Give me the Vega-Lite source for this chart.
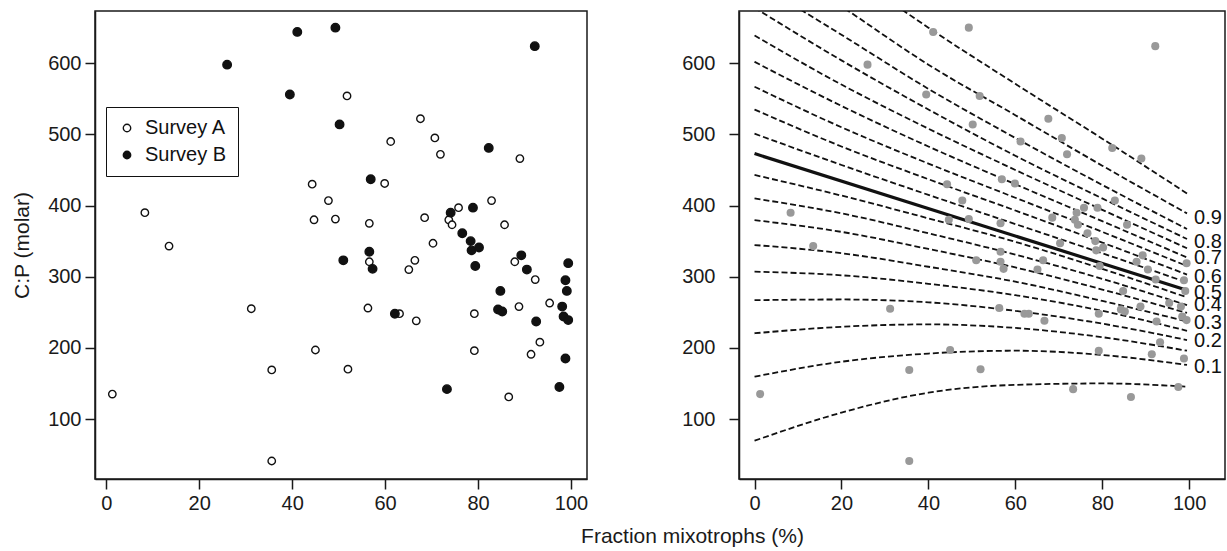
{
  "$schema": "https://vega.github.io/schema/vega-lite/v6.json",
  "padding": {"left": 10, "top": 10, "right": 0, "bottom": 0},
  "bounds": "flush",
  "spacing": 152,
  "config": {
    "font": "Liberation Sans",
    "view": {"stroke": "#1a1a1a", "strokeWidth": 1.5},
    "axis": {"domainColor": "#1a1a1a", "domainWidth": 1.5, "tickColor": "#1a1a1a", "tickWidth": 1.5, "tickSize": 10, "labelFontSize": 20, "labelColor": "#1a1a1a", "labelPadding": 4, "grid": false, "titleFontSize": 21, "titleFontWeight": "normal", "titleColor": "#1a1a1a"}
  },
  "datasets": {
    "pts": [
      {"s": "Survey A", "x": 1.3, "y": 135}, {"s": "Survey A", "x": 8.3, "y": 390}, {"s": "Survey A", "x": 13.5, "y": 343},
      {"s": "Survey A", "x": 31.2, "y": 255}, {"s": "Survey A", "x": 35.6, "y": 169}, {"s": "Survey A", "x": 35.6, "y": 41},
      {"s": "Survey A", "x": 44.3, "y": 430}, {"s": "Survey A", "x": 44.7, "y": 380}, {"s": "Survey A", "x": 45.0, "y": 197},
      {"s": "Survey A", "x": 47.8, "y": 407}, {"s": "Survey A", "x": 49.3, "y": 381}, {"s": "Survey A", "x": 51.8, "y": 554},
      {"s": "Survey A", "x": 52.0, "y": 170}, {"s": "Survey A", "x": 56.3, "y": 256}, {"s": "Survey A", "x": 56.6, "y": 375},
      {"s": "Survey A", "x": 56.6, "y": 321}, {"s": "Survey A", "x": 59.9, "y": 431}, {"s": "Survey A", "x": 61.2, "y": 490},
      {"s": "Survey A", "x": 63.1, "y": 248}, {"s": "Survey A", "x": 65.1, "y": 310}, {"s": "Survey A", "x": 66.4, "y": 323},
      {"s": "Survey A", "x": 66.7, "y": 238}, {"s": "Survey A", "x": 67.6, "y": 522}, {"s": "Survey A", "x": 68.5, "y": 383},
      {"s": "Survey A", "x": 70.3, "y": 347}, {"s": "Survey A", "x": 70.7, "y": 495}, {"s": "Survey A", "x": 71.9, "y": 472},
      {"s": "Survey A", "x": 73.7, "y": 380}, {"s": "Survey A", "x": 74.4, "y": 373}, {"s": "Survey A", "x": 75.8, "y": 397},
      {"s": "Survey A", "x": 79.2, "y": 248}, {"s": "Survey A", "x": 79.2, "y": 196}, {"s": "Survey A", "x": 82.9, "y": 407},
      {"s": "Survey A", "x": 85.7, "y": 373}, {"s": "Survey A", "x": 86.6, "y": 131}, {"s": "Survey A", "x": 87.9, "y": 321},
      {"s": "Survey A", "x": 88.8, "y": 258}, {"s": "Survey A", "x": 89.0, "y": 466}, {"s": "Survey A", "x": 91.4, "y": 191},
      {"s": "Survey A", "x": 92.3, "y": 296}, {"s": "Survey A", "x": 93.3, "y": 208}, {"s": "Survey A", "x": 95.4, "y": 263},
      {"s": "Survey B", "x": 26.0, "y": 598}, {"s": "Survey B", "x": 39.5, "y": 556}, {"s": "Survey B", "x": 41.1, "y": 644},
      {"s": "Survey B", "x": 49.3, "y": 650}, {"s": "Survey B", "x": 50.2, "y": 514}, {"s": "Survey B", "x": 51.0, "y": 323},
      {"s": "Survey B", "x": 56.6, "y": 335}, {"s": "Survey B", "x": 56.9, "y": 437}, {"s": "Survey B", "x": 57.3, "y": 311},
      {"s": "Survey B", "x": 62.1, "y": 248}, {"s": "Survey B", "x": 73.3, "y": 142}, {"s": "Survey B", "x": 74.1, "y": 390},
      {"s": "Survey B", "x": 76.6, "y": 361}, {"s": "Survey B", "x": 78.4, "y": 350}, {"s": "Survey B", "x": 78.6, "y": 337},
      {"s": "Survey B", "x": 78.9, "y": 397}, {"s": "Survey B", "x": 79.4, "y": 315}, {"s": "Survey B", "x": 80.2, "y": 341},
      {"s": "Survey B", "x": 82.3, "y": 481}, {"s": "Survey B", "x": 84.3, "y": 254}, {"s": "Survey B", "x": 84.8, "y": 280},
      {"s": "Survey B", "x": 85.2, "y": 251}, {"s": "Survey B", "x": 89.3, "y": 330}, {"s": "Survey B", "x": 90.5, "y": 310},
      {"s": "Survey B", "x": 92.2, "y": 624}, {"s": "Survey B", "x": 92.5, "y": 237}, {"s": "Survey B", "x": 97.5, "y": 145},
      {"s": "Survey B", "x": 98.1, "y": 258}, {"s": "Survey B", "x": 98.4, "y": 244}, {"s": "Survey B", "x": 98.8, "y": 295},
      {"s": "Survey B", "x": 98.8, "y": 185}, {"s": "Survey B", "x": 99.1, "y": 280}, {"s": "Survey B", "x": 99.4, "y": 319},
      {"s": "Survey B", "x": 99.4, "y": 239}
    ],
    "qlines": [
      {"q": "0.05", "x": 0, "y": 69.5}, {"q": "0.05", "x": 20, "y": 109}, {"q": "0.05", "x": 40, "y": 137}, {"q": "0.05", "x": 60, "y": 148}, {"q": "0.05", "x": 80, "y": 150}, {"q": "0.05", "x": 99.5, "y": 145.5},
      {"q": "0.10", "x": 0, "y": 159.5}, {"q": "0.10", "x": 20, "y": 180.5}, {"q": "0.10", "x": 40, "y": 192}, {"q": "0.10", "x": 60, "y": 196}, {"q": "0.10", "x": 80, "y": 190}, {"q": "0.10", "x": 99.5, "y": 176},
      {"q": "0.15", "x": 0, "y": 220.5}, {"q": "0.15", "x": 20, "y": 229.6}, {"q": "0.15", "x": 40, "y": 233}, {"q": "0.15", "x": 60, "y": 228}, {"q": "0.15", "x": 80, "y": 215}, {"q": "0.15", "x": 99.5, "y": 196},
      {"q": "0.20", "x": 0, "y": 267}, {"q": "0.20", "x": 20, "y": 268}, {"q": "0.20", "x": 40, "y": 264}, {"q": "0.20", "x": 60, "y": 252}, {"q": "0.20", "x": 80, "y": 234}, {"q": "0.20", "x": 99.5, "y": 211},
      {"q": "0.25", "x": 0, "y": 307}, {"q": "0.25", "x": 20, "y": 302}, {"q": "0.25", "x": 40, "y": 290}, {"q": "0.25", "x": 60, "y": 274}, {"q": "0.25", "x": 80, "y": 252}, {"q": "0.25", "x": 99.5, "y": 224},
      {"q": "0.30", "x": 0, "y": 344.5}, {"q": "0.30", "x": 20, "y": 333}, {"q": "0.30", "x": 40, "y": 314}, {"q": "0.30", "x": 60, "y": 293}, {"q": "0.30", "x": 80, "y": 266}, {"q": "0.30", "x": 99.5, "y": 237},
      {"q": "0.35", "x": 0, "y": 379.5}, {"q": "0.35", "x": 20, "y": 363}, {"q": "0.35", "x": 40, "y": 339}, {"q": "0.35", "x": 60, "y": 313}, {"q": "0.35", "x": 80, "y": 282}, {"q": "0.35", "x": 99.5, "y": 249},
      {"q": "0.40", "x": 0, "y": 410}, {"q": "0.40", "x": 20, "y": 389}, {"q": "0.40", "x": 40, "y": 361}, {"q": "0.40", "x": 60, "y": 331}, {"q": "0.40", "x": 80, "y": 297}, {"q": "0.40", "x": 99.5, "y": 260},
      {"q": "0.45", "x": 0, "y": 443}, {"q": "0.45", "x": 20, "y": 414}, {"q": "0.45", "x": 40, "y": 382}, {"q": "0.45", "x": 60, "y": 349}, {"q": "0.45", "x": 80, "y": 311}, {"q": "0.45", "x": 99.5, "y": 271},
      {"q": "0.55", "x": 0, "y": 501}, {"q": "0.55", "x": 20, "y": 457}, {"q": "0.55", "x": 40, "y": 415}, {"q": "0.55", "x": 60, "y": 374}, {"q": "0.55", "x": 80, "y": 333}, {"q": "0.55", "x": 99.5, "y": 292},
      {"q": "0.60", "x": 0, "y": 535}, {"q": "0.60", "x": 20, "y": 483}, {"q": "0.60", "x": 40, "y": 437}, {"q": "0.60", "x": 60, "y": 393}, {"q": "0.60", "x": 80, "y": 348}, {"q": "0.60", "x": 99.5, "y": 303},
      {"q": "0.65", "x": 0, "y": 567}, {"q": "0.65", "x": 20, "y": 510}, {"q": "0.65", "x": 40, "y": 459}, {"q": "0.65", "x": 60, "y": 411}, {"q": "0.65", "x": 80, "y": 363}, {"q": "0.65", "x": 99.5, "y": 315},
      {"q": "0.70", "x": 0, "y": 602}, {"q": "0.70", "x": 20, "y": 540}, {"q": "0.70", "x": 40, "y": 483}, {"q": "0.70", "x": 60, "y": 430}, {"q": "0.70", "x": 80, "y": 378}, {"q": "0.70", "x": 99.5, "y": 327},
      {"q": "0.75", "x": 0, "y": 639}, {"q": "0.75", "x": 20, "y": 570}, {"q": "0.75", "x": 40, "y": 508}, {"q": "0.75", "x": 60, "y": 450}, {"q": "0.75", "x": 80, "y": 394}, {"q": "0.75", "x": 99.5, "y": 340},
      {"q": "0.80", "x": 0, "y": 678}, {"q": "0.80", "x": 20, "y": 604}, {"q": "0.80", "x": 40, "y": 535}, {"q": "0.80", "x": 60, "y": 470}, {"q": "0.80", "x": 80, "y": 410}, {"q": "0.80", "x": 99.5, "y": 353},
      {"q": "0.85", "x": 0, "y": 715}, {"q": "0.85", "x": 20, "y": 640}, {"q": "0.85", "x": 40, "y": 564}, {"q": "0.85", "x": 60, "y": 495}, {"q": "0.85", "x": 80, "y": 429}, {"q": "0.85", "x": 99.5, "y": 367},
      {"q": "0.90", "x": 0, "y": 760}, {"q": "0.90", "x": 20, "y": 680}, {"q": "0.90", "x": 40, "y": 598}, {"q": "0.90", "x": 60, "y": 527}, {"q": "0.90", "x": 80, "y": 456}, {"q": "0.90", "x": 99.5, "y": 389},
      {"q": "0.95", "x": 0, "y": 820}, {"q": "0.95", "x": 20, "y": 735}, {"q": "0.95", "x": 40, "y": 650}, {"q": "0.95", "x": 60, "y": 571}, {"q": "0.95", "x": 80, "y": 494}, {"q": "0.95", "x": 99.5, "y": 417}
    ],
    "median": [
      {"x": 0, "y": 473}, {"x": 99.5, "y": 281}
    ],
    "labels": [
      {"t": "0.9", "x": 99.5, "y": 382.5}, {"t": "0.8", "x": 99.5, "y": 349}, {"t": "0.7", "x": 99.5, "y": 326},
      {"t": "0.6", "x": 99.5, "y": 300}, {"t": "0.5", "x": 99.5, "y": 277.6}, {"t": "0.4", "x": 99.5, "y": 260},
      {"t": "0.3", "x": 99.5, "y": 235}, {"t": "0.2", "x": 99.5, "y": 209}, {"t": "0.1", "x": 99.5, "y": 173}
    ]
  },
  "hconcat": [
    {
      "width": 492,
      "height": 468,
      "data": {"name": "pts"},
      "encoding": {
        "x": {"field": "x", "type": "quantitative",
              "scale": {"domain": [-2.43, 103.44], "nice": false, "zero": false},
              "axis": {"values": [0, 20, 40, 60, 80, 100], "title": "Fraction mixotrophs (%)", "titleX": 597, "titleY": 63, "titleBaseline": "alphabetic", "titleAlign": "center"}},
        "y": {"field": "y", "type": "quantitative",
              "scale": {"domain": [15.7, 673.4], "nice": false, "zero": false},
              "axis": {"values": [100, 200, 300, 400, 500, 600], "title": "C:P (molar)", "titlePadding": 15}},
        "fill": {"field": "s", "type": "nominal",
                 "scale": {"domain": ["Survey A", "Survey B"], "range": ["#ffffff", "#111111"]},
                 "legend": {"orient": "none", "legendX": 11, "legendY": 96, "title": null, "strokeColor": "#111111", "fillColor": "#ffffff", "padding": 11, "labelFontSize": 20, "labelColor": "#111111", "symbolSize": 55, "symbolType": "circle", "symbolStrokeColor": "#111111", "symbolStrokeWidth": 1.4, "rowPadding": 7, "labelOffset": 8}}
      },
      "layer": [
        {
          "transform": [{"filter": "datum.s == 'Survey A'"}],
          "mark": {"type": "point", "shape": "circle", "filled": true, "stroke": "#111111", "strokeWidth": 1.4, "opacity": 1, "size": 55}
        },
        {
          "transform": [{"filter": "datum.s == 'Survey B'"}],
          "mark": {"type": "point", "shape": "circle", "filled": true, "stroke": "#111111", "strokeWidth": 1.4, "opacity": 1, "size": 72}
        }
      ]
    },
    {
      "width": 486,
      "height": 468,
      "layer": [
        {
          "data": {"name": "qlines"},
          "mark": {"type": "line", "clip": true, "strokeDash": [6, 3], "strokeWidth": 1.8, "color": "#111111", "interpolate": "monotone"},
          "encoding": {
            "x": {"field": "x", "type": "quantitative",
                  "scale": {"domain": [-3.57, 108.24], "nice": false, "zero": false},
                  "axis": {"values": [0, 20, 40, 60, 80, 100], "title": null}},
            "y": {"field": "y", "type": "quantitative",
                  "scale": {"domain": [15.7, 673.4], "nice": false, "zero": false},
                  "axis": {"values": [100, 200, 300, 400, 500, 600], "title": null, "labelPadding": 14}},
            "detail": {"field": "q", "type": "nominal"}
          }
        },
        {
          "data": {"name": "median"},
          "mark": {"type": "line", "clip": true, "strokeWidth": 3.2, "color": "#111111"},
          "encoding": {
            "x": {"field": "x", "type": "quantitative"},
            "y": {"field": "y", "type": "quantitative"}
          }
        },
        {
          "data": {"name": "pts"},
          "mark": {"type": "circle", "size": 65, "color": "#999999", "opacity": 1},
          "encoding": {
            "x": {"field": "x", "type": "quantitative"},
            "y": {"field": "y", "type": "quantitative"}
          }
        },
        {
          "data": {"name": "labels"},
          "mark": {"type": "text", "align": "left", "baseline": "middle", "dx": 7, "fontSize": 20, "color": "#111111"},
          "encoding": {
            "x": {"field": "x", "type": "quantitative"},
            "y": {"field": "y", "type": "quantitative"},
            "text": {"field": "t", "type": "nominal"}
          }
        }
      ]
    }
  ]
}
